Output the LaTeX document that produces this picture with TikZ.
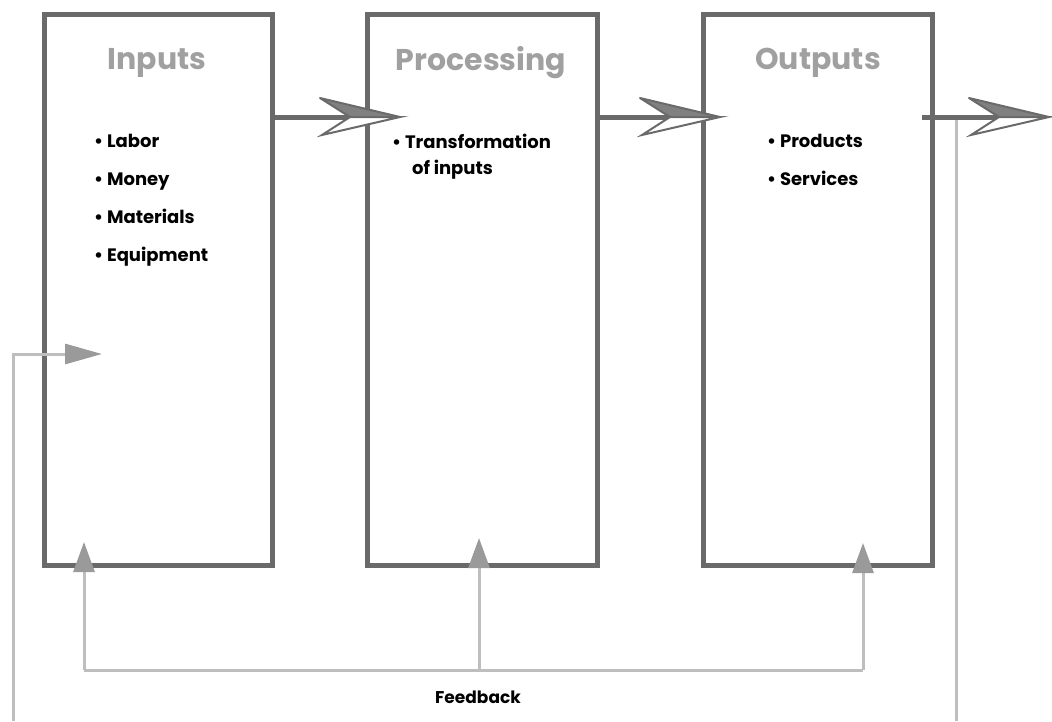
\documentclass[tikz,border=0pt]{standalone}
\usepackage{fontspec}
\newfontfamily\pop{Poppins}
\usetikzlibrary{arrows.meta}
\definecolor{boxgray}{HTML}{6A6A6A}
\definecolor{titlegray}{HTML}{A0A0A0}
\definecolor{fbgray}{HTML}{BEBEBE}
\definecolor{tipgray}{HTML}{9A9A9A}
\tikzset{
  stage/.style={draw=boxgray, line width=5pt, minimum height=551pt, inner sep=0pt},
  ttl/.style={font=\pop\bfseries\fontsize{30}{32}\selectfont, text=titlegray},
  itm/.style={font=\pop\bfseries\fontsize{18}{38}\selectfont, align=left, anchor=north west, inner sep=0pt},
  fb/.style={draw=fbgray, line width=3pt},
  fbtip/.style={-{Triangle[length=30pt,width=21pt,fill=tipgray,color=tipgray]}},
  shaft/.style={draw=boxgray, line width=5pt}
}
\newcommand\chevron[1]{%
  \begin{scope}[shift={(#1)}]
    \fill[boxgray!85] (0,0) -- (-80,-19) -- (-50,0) -- cycle;
    \filldraw[fill=white, draw=boxgray, line width=2pt] (0,0) -- (-50,0) -- (-78,18) -- cycle;
    \draw[boxgray, line width=2pt, line join=round] (-50,0) -- (-80,-19) -- (0,0);
  \end{scope}}
\begin{document}
\begin{tikzpicture}[x=1pt,y=-1pt]
\useasboundingbox (0,0) rectangle (1052,721);
% feedback lines (under boxes)
\coordinate (fbL) at (84,670);
\coordinate (fbM) at (479,670);
\coordinate (fbR) at (863,670);
\coordinate (tipL) at (84,542);
\coordinate (tipM) at (479,538);
\coordinate (tipR) at (863,543);
\coordinate (loopB) at (13,721);
\coordinate (loopC) at (13,354);
\coordinate (loopT) at (102,354);
\coordinate (outT) at (956,118);
\coordinate (outB) at (956,721);
\draw[fb] (fbL) -- (fbR);
\draw[fb] (outT) -- (outB);
% boxes
\node[stage, minimum width=228pt] (in) at (158,289.5) {};
\node[stage, minimum width=230pt] (proc) at (482,289.5) {};
\node[stage, minimum width=229pt] (out) at (817.5,289.5) {};
% titles
\node[ttl] (tin) at (157,63) {Inputs};
\node[ttl] (tproc) at (481,63) {Processing};
\node[ttl] (tout) at (818,63) {Outputs};
% items
\node[itm] (lin) at (94,134) {• Labor\\• Money\\• Materials\\• Equipment};
\node[itm, font=\pop\bfseries\fontsize{18}{26}\selectfont] (lproc) at (392,134) {• Transformation\\\hphantom{• }\hspace{7pt}of inputs};
\node[itm] (lout) at (767,134) {• Products\\• Services};
\node[font=\pop\bfseries\fontsize{17}{20}\selectfont] (fbtext) at (478,697) {Feedback};
% feedback arrows
\draw[fb, fbtip] (fbL) -- (tipL);
\draw[fb, fbtip] (fbM) -- (tipM);
\draw[fb, fbtip] (fbR) -- (tipR);
\draw[fb, -{Triangle[length=37pt,width=20pt,fill=tipgray,color=tipgray]}] (loopB) -- (loopC) -- (loopT);
% main arrows
\coordinate (a1) at (400,117);
\coordinate (a2) at (720,117);
\coordinate (a3) at (1049,117);
\draw[shaft] (in.east |- a1) -- ([xshift=-48pt]a1);
\draw[shaft] (proc.east |- a2) -- ([xshift=-48pt]a2);
\draw[shaft] (922,117) -- ([xshift=-48pt]a3);
\chevron{a1}
\chevron{a2}
\chevron{a3}
\end{tikzpicture}
\end{document}
